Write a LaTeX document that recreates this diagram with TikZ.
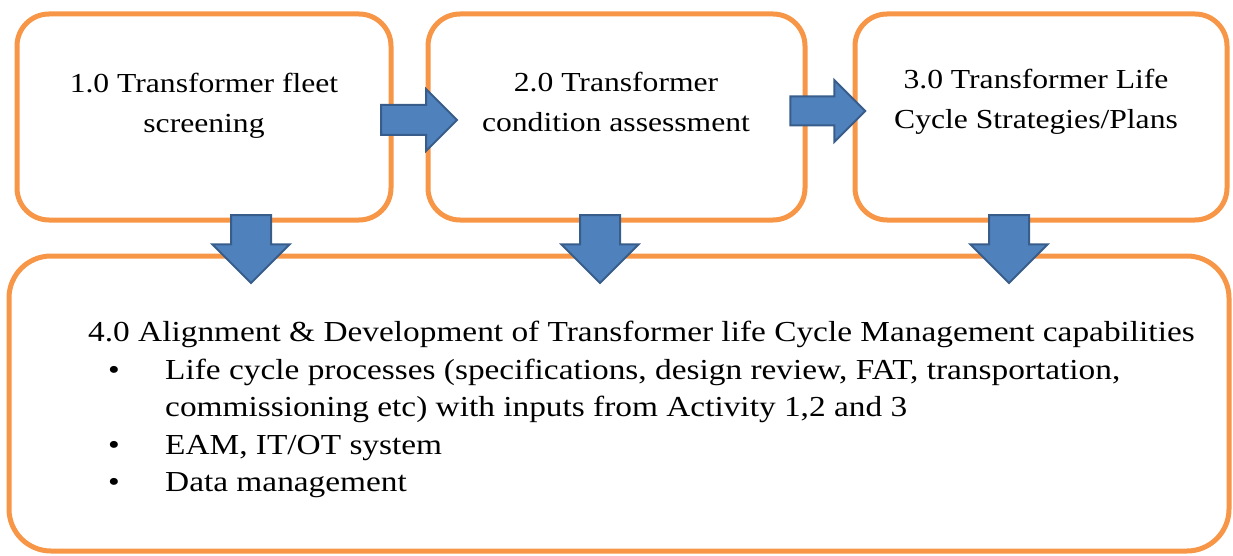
\documentclass[tikz,border=0pt]{standalone}
\usepackage{fontspec}
\setmainfont{Liberation Serif}[FakeStretch=1.15]
\usetikzlibrary{shapes.arrows,positioning}
\definecolor{stageorange}{HTML}{F79646}
\definecolor{flowblue}{HTML}{4F81BD}
\definecolor{flowedge}{HTML}{385D8A}

\begin{document}
\begin{tikzpicture}[x=1pt,y=-1pt,
	stage/.style={draw=stageorange,line width=5pt,rounded corners=32pt,inner sep=0pt,minimum height=206pt},
	stagetxt/.style={align=center,inner sep=0pt,font=\fontsize{27.5}{40}\selectfont},
	flow/.style={single arrow,draw=flowedge,line width=2pt,fill=flowblue,inner xsep=0pt,single arrow tip angle=90},
	flowright/.style={flow,inner ysep=14pt,single arrow head extend=16pt,minimum height=76pt},
	flowdown/.style={flow,rotate=-90,inner ysep=19pt,single arrow head extend=18.5pt,minimum height=68pt}]
		\useasboundingbox (0,0) rectangle (1233,556);

		\node[stage,minimum width=374pt]	(scrn)	at (204,117)	{};
		\node[stage,minimum width=377pt]	(cond)	at (616.5,117)	{};
		\node[stage,minimum width=372pt]	(plan)	at (1041,117)	{};
		\node[stage,rounded corners=42pt,minimum width=1220pt,minimum height=295pt]	(algn)	at (619,403.5)	{};

		\node[stagetxt]	(scrntxt)	at (204,106)	{1.0 Transformer fleet\\screening};
		\node[stagetxt]	(condtxt)	at (616,102)	{2.0 Transformer\\condition assessment};
		\node[stagetxt]	(plantxt)	at (1036,102)	{3.0 Transformer Life\\Cycle Strategies/Plans};
		\node[align=left,inner sep=0pt,anchor=north west,font=\fontsize{29}{37.5}\selectfont]	(algntxt)	at (88,321)
			{4.0 Alignment \& Development of Transformer life Cycle Management capabilities\\
			\hspace*{20pt}\makebox[57pt][l]{\textbullet}Life cycle processes (specifications, design review, FAT, transportation,\\
			\hspace*{77pt}commissioning etc) with inputs from Activity 1,2 and 3\\
			\hspace*{20pt}\makebox[57pt][l]{\textbullet}EAM, IT/OT system\\
			\hspace*{20pt}\makebox[57pt][l]{\textbullet}Data management};

		\node[flowright]	(scrn-cond)	at (411.5,120)	{};
		\node[flowright,inner ysep=13.5pt,single arrow head extend=16.5pt,minimum height=75pt]	(cond-plan)	at (820.5,111)	{};
		\node[flowdown]	(scrn-algn)	at (251,239)	{};
		\node[flowdown]	(cond-algn)	at (600,239)	{};
		\node[flowdown]	(plan-algn)	at (1009,239)	{};
	\end{tikzpicture}
\end{document}
